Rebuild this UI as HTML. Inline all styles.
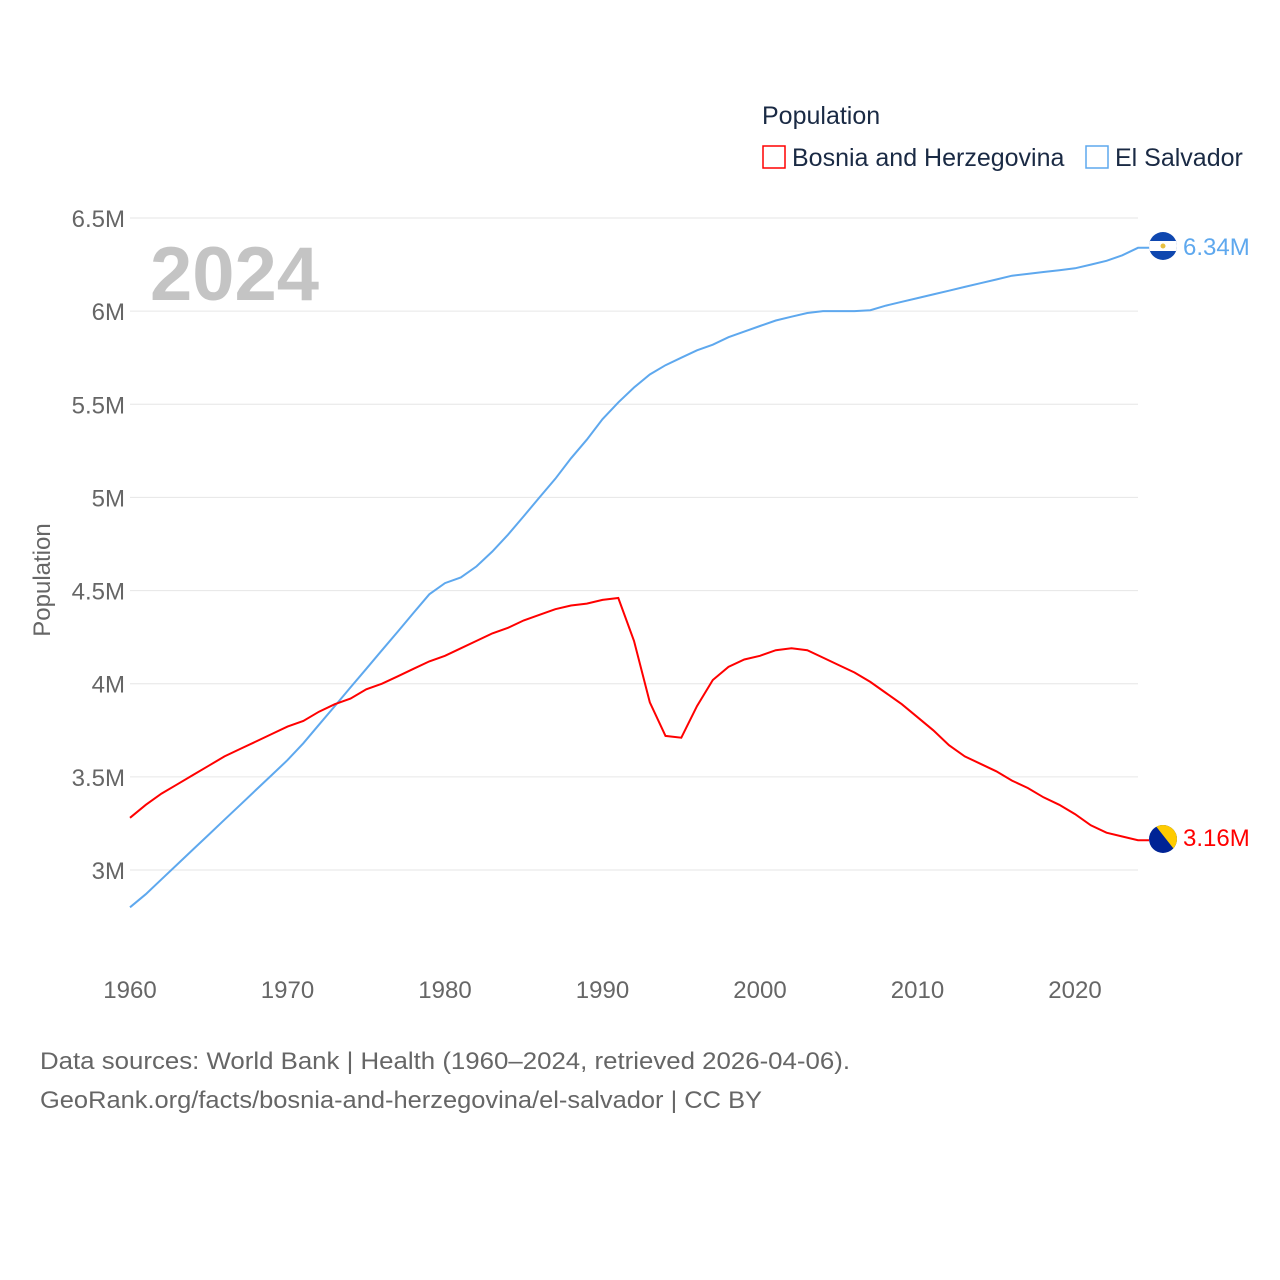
<!DOCTYPE html>
<html><head><meta charset="utf-8"><style>
html,body{margin:0;padding:0;background:#fff;}
svg{display:block;font-family:"Liberation Sans",sans-serif;}
</style></head><body>
<svg id="chart" width="1280" height="1280" viewBox="0 0 1280 1280" xmlns="http://www.w3.org/2000/svg">
<defs>
<clipPath id="c1"><circle cx="1163" cy="246" r="14"/></clipPath>
<clipPath id="c2"><circle cx="1163" cy="839" r="14"/></clipPath>
</defs>
<g id="grid"></g>
<g id="yticks"></g>
<g id="xticks"></g>
<text x="150" y="300" font-size="76" font-weight="bold" fill="#c4c4c4">2024</text>
<text transform="translate(50,580) rotate(-90)" text-anchor="middle" font-size="24" fill="#666">Population</text>
<text x="762" y="124" font-size="25" fill="#1a2a44">Population</text>
<g>
<rect x="763" y="146" width="22" height="22" fill="none" stroke="#ff0000" stroke-width="1.5"/>
<text x="792" y="166" font-size="25" fill="#1a2a44">Bosnia and Herzegovina</text></g>
<g>
<rect x="1086" y="146" width="22" height="22" fill="none" stroke="#5ea8ee" stroke-width="1.5"/>
<text x="1115" y="166" font-size="25" fill="#1a2a44">El Salvador</text></g>
<path id="lineSV" fill="none" stroke="#5ea8ee" stroke-width="2"/>
<path id="lineBA" fill="none" stroke="#ff0000" stroke-width="2"/>
<g clip-path="url(#c1)">
<rect x="1149" y="232" width="28" height="28" fill="#0f47af"/><rect x="1149" y="241" width="28" height="10" fill="#fff"/><circle cx="1163" cy="246" r="2.5" fill="#e8c040"/></g>
<text id="lblSV" x="1183" y="255" font-size="24" fill="#5ea8ee"></text>
<g clip-path="url(#c2)">
<rect x="1149" y="825" width="28" height="28" fill="#002395"/><polygon points="1155,825 1177,825 1177,853" fill="#fecb00"/></g>
<text id="lblBA" x="1183" y="846" font-size="24" fill="#ff0000"></text>
<text x="40" y="1069" font-size="24" fill="#666" textLength="810" lengthAdjust="spacingAndGlyphs">Data sources: World Bank | Health (1960–2024, retrieved 2026-04-06).</text>
<text x="40" y="1108" font-size="24" fill="#666" textLength="722" lengthAdjust="spacingAndGlyphs">GeoRank.org/facts/bosnia-and-herzegovina/el-salvador | CC BY</text>
</svg>
<script>
const years=[];for(let y=1960;y<=2024;y++)years.push(y);
const elSalvador=[2.80,2.87,2.95,3.03,3.11,3.19,3.27,3.35,3.43,3.51,3.59,3.68,3.78,3.88,3.98,4.08,4.18,4.28,4.38,4.48,4.54,4.57,4.63,4.71,4.80,4.90,5.00,5.10,5.21,5.31,5.42,5.51,5.59,5.66,5.71,5.75,5.79,5.82,5.86,5.89,5.92,5.95,5.97,5.99,6.00,6.00,6.00,6.005,6.03,6.05,6.07,6.09,6.11,6.13,6.15,6.17,6.19,6.20,6.21,6.22,6.23,6.25,6.27,6.30,6.34];
const bosnia=[3.28,3.35,3.41,3.46,3.51,3.56,3.61,3.65,3.69,3.73,3.77,3.80,3.85,3.89,3.92,3.97,4.00,4.04,4.08,4.12,4.15,4.19,4.23,4.27,4.30,4.34,4.37,4.40,4.42,4.43,4.45,4.46,4.23,3.90,3.72,3.71,3.88,4.02,4.09,4.13,4.15,4.18,4.19,4.18,4.14,4.10,4.06,4.01,3.95,3.89,3.82,3.75,3.67,3.61,3.57,3.53,3.48,3.44,3.39,3.35,3.30,3.24,3.20,3.18,3.16];
const yTicks=[3,3.5,4,4.5,5,5.5,6,6.5];
const yTickLabels=["3M","3.5M","4M","4.5M","5M","5.5M","6M","6.5M"];
const xTicks=[1960,1970,1980,1990,2000,2010,2020];
const NS="http://www.w3.org/2000/svg";
const xS=y=>130+(y-1960)*(1138-130)/64;
const yS=v=>870-(v-3)*(870-218)/3.5;
const grid=document.getElementById('grid'),yt=document.getElementById('yticks'),xt=document.getElementById('xticks');
yTicks.forEach((v,i)=>{
 const l=document.createElementNS(NS,'line');
 
 
 l.setAttribute('x1',130);l.setAttribute('x2',1138);l.setAttribute('y1',yS(v));l.setAttribute('y2',yS(v));
 l.setAttribute('stroke','#e6e6e6');l.setAttribute('stroke-width','1');grid.appendChild(l);
 const t=document.createElementNS(NS,'text');
 
 
 t.setAttribute('x',125);t.setAttribute('y',yS(v)+9);t.setAttribute('text-anchor','end');
 t.setAttribute('font-size','24');t.setAttribute('fill','#666');t.textContent=yTickLabels[i];yt.appendChild(t);
});
xTicks.forEach(v=>{
 const t=document.createElementNS(NS,'text');
 
 
 t.setAttribute('x',xS(v));t.setAttribute('y',998);t.setAttribute('text-anchor','middle');
 t.setAttribute('font-size','24');t.setAttribute('fill','#666');t.textContent=v;xt.appendChild(t);
});
const path=arr=>arr.map((v,i)=>(i?'L':'M')+xS(years[i]).toFixed(1)+','+yS(v).toFixed(1)).join('');
document.getElementById('lineSV').setAttribute('d',path(elSalvador)+'L1149,'+yS(elSalvador[64]).toFixed(1));
document.getElementById('lineBA').setAttribute('d',path(bosnia)+'L1149,'+yS(bosnia[64]).toFixed(1));
document.getElementById('lblSV').textContent=elSalvador[64].toFixed(2)+'M';
document.getElementById('lblBA').textContent=bosnia[64].toFixed(2)+'M';
</script>
</body></html>
